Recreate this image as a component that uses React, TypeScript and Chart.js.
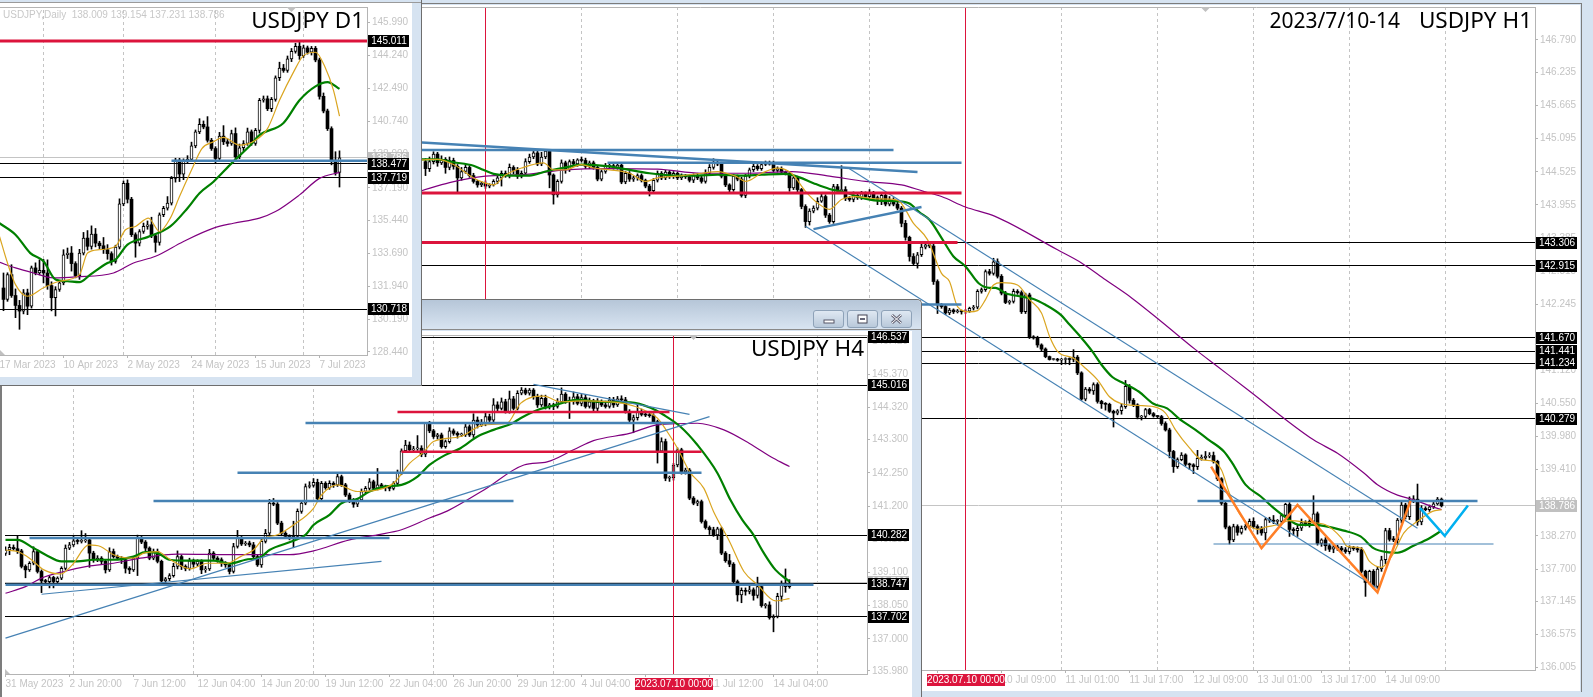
import React, { useEffect, useRef } from "react";
import { Chart, registerables } from "chart.js";
Chart.register(...registerables);

// ---------- D1 ----------
const d1FirstOpen = 131.85;
const d1Close = [131.24,132.56,131.45,130.92,130.62,131.59,130.88,132.92,132.65,132.79,
132.65,131.98,131.33,131.77,132.12,133.62,133.71,133.15,132.51,133.71,
134.51,134.07,134.72,134.24,134.10,133.89,133.68,133.27,134.03,136.33,
137.43,136.58,134.69,134.24,134.86,135.13,135.22,134.63,134.28,135.75,
136.10,136.37,137.69,138.66,137.92,138.63,138.70,139.42,140.17,140.57,
140.43,139.72,139.28,138.75,139.94,139.64,139.55,140.08,138.84,139.32,
139.55,140.17,139.55,140.25,141.85,141.93,141.40,141.90,143.05,143.56,
143.44,144.06,144.46,144.73,144.23,144.64,144.41,144.62,144.00,142.06,
141.28,140.34,138.63,138.009,138.786];
const d1WickUp = [80,10,53,35,27,18,20,10,27,56,58,70,20,15,10,27,27,35,10,20,30,40,44,30,10,44,27,10,10,27,12,18,10,10,10,18,20,40,10,10,10,35,10,10,10,10,20,20,10,30,18,55,10,10,20,56,15,18,30,20,15,20,10,10,10,15,15,10,10,32,20,15,15,16,21,15,10,10,10,10,18,10,10,48,37];
const d1WickDown = [60,10,10,65,97,15,45,10,10,10,53,20,70,97,10,10,20,40,12,20,10,20,15,20,15,20,30,20,10,10,10,20,10,75,15,10,15,10,52,15,10,10,10,20,40,30,10,10,10,10,10,10,10,25,10,15,15,10,10,10,15,10,10,10,15,10,10,15,10,15,10,10,15,10,20,10,10,15,10,15,10,10,22,15,78];
const d1Orange = [[-1,134.6],[1,133.18],[3,132.03],[6,131.41],[10,131.86],[14,132.21],[19,132.56],[21,133.71],[24,133.89],[28,134.07],[30.5,134.95],[33,135.13],[36.25,135.57],[39,134.86],[41.7,135.57],[44,136.72],[47,138.13],[49.6,139.28],[52.5,139.64],[55,139.87],[59,139.46],[63,139.72],[66,140.34],[69,141.85],[72.5,143.35],[75,144.23],[78,144.41],[80.4,143.61],[82.5,142.38],[84,141.01]];
const d1Green = [[-1,135.3],[3,134.69],[6.7,133.71],[10,133.27],[13,132.3],[16,132.21],[19,132.16],[21.7,132.56],[26,133.18],[28,133.36],[31,134.16],[36,134.56],[41.7,135.13],[46,136.1],[49,136.9],[52.5,137.51],[57,138.49],[61.7,139.46],[64,139.99],[70,140.64],[74,141.85],[78,142.59],[81,142.82],[84,142.46]];
const d1Purple = [[-1,133.22],[3,132.92],[7.5,132.65],[12.5,132.39],[18,132.44],[27.5,132.65],[32.5,133.18],[38,133.54],[45,134.33],[52.5,135.04],[57.5,135.3],[64,135.57],[68,135.92],[74,136.81],[79,137.69],[84,138.01]];
const d1YTicks = [145.99,144.24,142.49,140.74,138.99,137.19,135.44,133.69,131.94,130.19,128.44];
const d1TickIdx = [-1,15,31,47,63,79];
const d1TickText = ["17 Mar 2023","10 Apr 2023","2 May 2023","24 May 2023","15 Jun 2023","7 Jul 2023"];
const d1GridIdx = [10,30,53,75];
const d1BlackLevels = [145.011,138.477,137.719,130.718];
const d1RedLevels = [[-1,145.011,91,145.011]];
const d1BlueLines = [[42,138.63,91,138.63]];

// ---------- H4 ----------
const h4FirstOpen = 139.7;
const h4Close = [139.81,139.89,139.85,139.78,139.29,139.18,139.39,139.76,139.13,138.83,
138.81,138.94,138.81,138.92,139.23,139.87,139.97,140.10,140.08,140.10,
140.13,139.71,139.50,139.55,139.45,139.18,139.76,139.60,139.55,139.50,
139.23,139.18,139.55,140.18,140.06,139.87,139.55,139.76,139.45,138.83,
138.90,139.00,139.29,139.60,139.29,139.23,139.47,139.36,139.45,139.18,
139.21,139.71,139.55,139.50,139.39,139.34,139.13,139.92,140.18,140.00,
140.03,139.97,139.60,139.34,140.08,140.34,141.29,141.26,140.66,140.34,
140.24,140.18,140.24,141.03,141.29,141.82,141.85,141.95,141.43,141.92,
141.78,141.92,141.87,142.13,141.87,141.55,141.39,141.26,141.39,141.66,
141.76,141.97,141.76,141.87,141.82,141.78,141.76,141.92,142.24,142.95,
143.13,142.98,143.01,143.03,142.84,143.82,143.58,143.40,143.45,143.08,
143.24,143.58,143.50,143.45,143.45,143.71,143.45,143.92,143.77,143.82,
144.03,143.92,144.40,144.29,144.50,144.19,144.59,144.29,144.77,144.87,
144.77,144.87,144.66,144.40,144.61,144.35,144.40,144.35,144.50,144.74,
144.50,144.50,144.66,144.45,144.63,144.35,144.50,144.29,144.48,144.40,
144.35,144.56,144.40,144.59,144.56,144.19,143.92,144.00,144.19,144.10,
144.08,144.06,143.87,142.94,143.24,142.08,142.10,142.50,142.98,142.29,
142.34,141.45,141.29,141.34,140.71,140.52,140.45,140.29,140.48,139.71,
139.47,139.36,138.81,138.39,138.53,138.50,138.55,138.37,138.65,138.05,
138.07,137.67,137.71,138.34,138.71,138.65,138.75];
const h4WickUp = [10,10,8,40,5,5,5,15,5,5,5,5,4,4,5,10,8,15,8,32,20,5,6,8,5,5,12,8,5,5,6,5,6,10,6,5,4,8,8,4,4,6,10,18,5,5,8,5,5,5,8,12,5,5,6,5,5,10,25,6,5,6,8,5,10,12,12,15,5,6,5,5,48,8,6,8,12,12,10,6,5,8,5,12,5,5,6,5,5,8,6,10,5,52,5,4,5,5,10,6,15,10,8,40,8,2,6,5,5,6,5,10,6,5,6,8,6,20,10,12,15,8,20,10,12,8,25,8,8,8,6,5,5,8,10,10,5,5,10,20,5,15,15,8,10,10,12,8,12,8,12,8,8,8,10,8,6,8,25,8,8,6,6,5,12,8,5,5,6,5,6,5,5,5,5,5,5,8,5,5,5,20,5,5,8,8,12,6,30,8,5,10,5,10,12,50,12];
const h4WickDown = [6,15,5,8,5,25,5,5,5,37,5,20,20,5,5,5,5,5,8,5,5,45,8,6,8,10,5,5,5,12,15,12,5,55,5,8,5,5,5,3,5,6,5,8,10,8,6,10,6,12,8,5,5,8,10,8,8,5,5,5,5,6,8,5,8,5,5,5,5,8,6,5,30,5,6,5,5,5,8,5,5,5,8,5,5,5,8,10,8,5,5,5,5,5,5,10,8,5,5,5,5,5,5,5,8,8,6,6,8,5,5,5,6,10,5,5,5,8,10,5,8,5,6,8,5,5,5,5,5,5,5,6,8,8,5,8,8,10,5,5,5,53,8,5,8,5,5,8,8,5,5,5,8,5,5,5,5,40,8,5,5,5,5,38,5,8,10,8,6,8,8,5,5,8,5,5,15,5,15,5,5,8,6,20,25,12,8,15,8,5,8,5,45,5,15,18,5];
const h4Green = [[0,140.13],[3,140.13],[7,139.87],[10,139.66],[14,139.45],[18,139.45],[22,139.5],[27,139.5],[32,139.6],[35,139.74],[38,139.71],[41,139.5],[46,139.47],[52,139.47],[56,139.38],[60,139.5],[64,139.6],[66,139.81],[72,140.1],[75,140.29],[77,140.6],[81,140.92],[84,141.29],[88,141.43],[91,141.66],[95,141.82],[99,141.87],[103,142.13],[106,142.5],[110,142.82],[113.75,143.03],[118,143.4],[122,143.61],[126.7,143.82],[128.75,143.98],[133,144.24],[136.25,144.35],[143,144.56],[148.75,144.5],[156.25,144.48],[161.25,144.31],[164.6,144.08],[168.75,143.71],[173,143.13],[178,142.24],[181.25,141.39],[184.2,140.76],[186.7,140.34],[189.6,139.71],[192.5,139.18],[196,138.81]];
const h4Orange = [[0,139.81],[3,139.76],[6,139.55],[9.6,139.18],[13.75,139.05],[16.7,139.34],[20.8,139.97],[23.75,139.92],[27,139.66],[32,139.55],[34.6,139.71],[38,139.76],[41.25,139.5],[46.25,139.21],[50.4,139.39],[55.4,139.39],[58.75,139.6],[62,139.81],[64.6,140.18],[68,140.29],[72,140.6],[77,141.13],[79,141.55],[83,141.87],[88,141.66],[93,141.71],[97,141.92],[101,142.55],[104.6,142.92],[107,143.24],[113.75,143.4],[119.6,143.77],[125.4,143.82],[128.75,144.45],[134.6,144.68],[138.75,144.5],[144.6,144.53],[154.6,144.45],[159.6,144.24],[163,143.98],[165.4,143.56],[168,143.03],[171,142.29],[174.6,141.76],[177,141.03],[181,140.08],[184.6,139.13],[188,138.71],[192.5,138.2],[196,138.27]];
const h4Purple = [[0,138.44],[5,138.65],[9,138.92],[14.6,139.13],[20.4,139.29],[27,139.39],[33.75,139.55],[43,139.68],[57,139.66],[71,139.66],[77,139.78],[86,140.13],[93,140.29],[99,140.45],[106,140.82],[111,141.08],[119.6,141.71],[129.6,142.5],[135.4,142.6],[142,142.98],[147,143.27],[156,143.5],[163,143.77],[173,143.82],[179.6,143.61],[186,143.18],[192,142.71],[196,142.45]];
const h4YTicks = [146.42,145.37,144.32,143.3,142.25,141.2,140.15,139.1,138.05,137,135.98];
const h4TickIdx = [0,16,32,48,64,80,96,112,128,144,160,176,192];
const h4TickText = ["31 May 2023","2 Jun 20:00","7 Jun 12:00","12 Jun 04:00","14 Jun 20:00","19 Jun 12:00","22 Jun 04:00","26 Jun 20:00","29 Jun 12:00","4 Jul 04:00","6 Jul 20:00","11 Jul 12:00","14 Jul 04:00"];
const h4GridIdx = [17,47,77,107,137,167,203];
const h4BlackLevels = [146.537,145.016,140.282,138.747,137.702];
const h4BlueThick = [[0,138.71,202,138.71],[6,140.19,96,140.19],[37,141.36,127,141.36],[58,142.25,174,142.25],[75,143.83,167,143.83]];
const h4RedLines = [[98,144.18,166,144.18],[99,142.92,174,142.92]];
const h4BlueThin = [[0,137.02,176,144.03],[9,138.41,94,139.45],[132,145.05,171,144.1]];

// ---------- H1 ----------
const h1FirstOpen = 144.7;
const h1Close = [144.58,144.70,144.83,144.68,144.74,144.60,144.72,144.62,144.42,144.53,
144.60,144.46,144.36,144.30,144.33,144.28,144.30,144.36,144.42,144.50,
144.46,144.60,144.55,144.45,144.50,144.70,144.78,144.85,144.66,144.78,
144.88,144.47,144.13,144.36,144.68,144.56,144.70,144.66,144.73,144.72,
144.62,144.68,144.60,144.40,144.53,144.62,144.63,144.60,144.64,144.35,
144.50,144.40,144.42,144.46,144.38,144.28,144.20,144.38,144.50,144.42,
144.52,144.44,144.50,144.42,144.46,144.44,144.38,144.46,144.42,144.36,
144.50,144.60,144.68,144.66,144.45,144.30,144.22,144.45,144.40,144.12,
144.45,144.56,144.62,144.58,144.65,144.68,144.66,144.55,144.58,144.52,
144.50,144.25,144.42,144.22,143.93,143.67,143.85,143.90,144.02,144.10,
143.78,143.67,144.27,144.20,144.22,144.07,144.05,144.12,144.08,144.15,
144.10,144.16,144.08,144.05,144.12,143.97,144.05,143.97,143.90,143.64,
143.40,143.07,142.95,143.10,143.23,143.27,143.25,142.64,142.24,142.21,
142.10,142.15,142.12,142.13,142.12,142.13,142.18,142.20,142.47,142.50,
142.81,142.78,142.98,142.73,142.44,142.28,142.30,142.47,142.45,142.12,
142.41,141.69,141.67,141.55,141.48,141.35,141.30,141.30,141.29,141.30,
141.31,141.30,141.34,141.07,140.62,140.79,140.76,140.87,140.58,140.54,
140.53,140.41,140.38,140.42,140.49,140.84,140.60,140.52,140.31,140.32,
140.44,140.37,140.33,140.32,140.20,140.09,139.72,139.46,139.58,139.66,
139.50,139.49,139.46,139.60,139.61,139.64,139.65,139.55,139.25,138.83,
138.42,138.20,138.43,138.33,138.40,138.44,138.52,138.43,138.40,138.32,
138.55,138.54,138.52,138.52,138.62,138.81,138.38,138.36,138.40,138.50,
138.48,138.52,138.65,138.14,138.20,138.10,138.04,138.08,138.06,138.03,
138.00,138.07,138.05,138.03,137.66,137.47,137.66,137.40,137.70,137.86,
138.36,138.21,138.20,138.54,138.80,138.60,138.89,138.90,138.51,138.74,
138.72,138.77,138.82,138.90,138.786];
const h1WickUp = [5,8,4,3,6,3,6,4,3,7,5,3,4,2,3,4,2,3,5,4,4,6,3,5,4,5,5,3,6,8,2,3,2,3,5,3,3,4,2,5,4,3,3,3,3,5,3,4,3,3,3,3,3,3,3,2,3,3,4,3,3,3,3,2,3,2,3,3,4,3,6,5,7,3,3,4,2,3,2,3,3,3,4,3,4,3,3,5,3,3,2,3,2,3,2,3,4,4,6,4,3,3,4,4,41,5,3,6,3,4,3,6,3,3,5,3,5,3,3,3,5,2,5,4,5,6,3,6,3,2,2,3,2,3,2,3,2,3,3,3,3,4,6,5,3,3,2,4,3,3,3,3,2,3,2,2,1,2,2,2,2,2,13,3,2,3,3,3,3,2,2,2,2,2,5,10,3,3,2,2,2,2,2,1,2,3,3,2,3,4,2,2,2,14,5,8,5,6,2,2,2,2,4,3,4,3,4,6,3,3,3,4,8,3,3,2,3,3,5,6,3,3,31,3,2,4,3,3,3,3,4,3,2,3,4,2,2,3,4,6,4,4,5,3,7,3,5,6,26,5,3,3,3,3,2];
const h1WickDown = [12,5,4,6,3,10,4,5,25,4,3,3,3,4,3,4,3,2,4,14,3,4,6,4,3,4,3,3,3,3,3,22,16,4,3,6,3,3,4,3,4,4,3,3,3,3,4,3,3,3,3,4,4,4,3,3,9,4,3,3,3,3,3,3,3,3,3,4,3,3,3,3,3,3,3,3,7,3,3,3,4,3,3,3,3,2,2,3,3,3,3,6,3,4,4,10,6,3,3,2,4,3,3,3,3,4,3,4,3,3,3,3,4,9,9,3,3,3,3,6,5,8,3,8,3,3,3,5,15,3,3,3,3,2,4,3,2,3,3,3,3,3,3,3,3,2,3,3,3,3,3,3,2,4,3,2,1,1,2,8,8,9,4,3,2,3,4,6,3,8,10,2,24,3,6,3,5,3,3,5,2,2,2,2,3,2,11,10,3,2,3,8,12,5,3,3,3,3,3,3,3,7,3,5,3,3,3,3,10,4,12,4,4,6,4,3,12,8,10,4,4,6,3,3,5,8,4,6,4,4,3,4,3,4,3,24,3,3,3,4,7,3,3,8,5,4,5,5,6,5,2,3,3,2,2];
const h1Green = [[-1,144.74],[3,144.74],[7,144.69],[12,144.63],[14.4,144.56],[17,144.49],[21,144.46],[26,144.46],[30,144.53],[35,144.6],[39,144.65],[46,144.62],[50,144.57],[56,144.5],[63,144.46],[68,144.46],[73,144.475],[79,144.46],[84,144.475],[90,144.49],[93.5,144.43],[97,144.33],[101,144.23],[105,144.17],[108.5,144.09],[113,144.03],[118,144.02],[121,143.98],[123.5,143.83],[126,143.7],[129,143.39],[132,143.07],[135,142.9],[138.3,142.61],[141,142.53],[142.5,142.53],[145,142.44],[149,142.38],[152,142.34],[155,142.24],[158.75,142.07],[161,141.9],[164,141.67],[166.7,141.44],[169,141.21],[171.7,141],[174.6,140.89],[178.3,140.75],[182,140.54],[185.4,140.46],[188.3,140.29],[192.5,140.09],[195.8,139.92],[199.6,139.72],[201.7,139.52],[205,139.15],[208.75,138.95],[212,138.75],[215.4,138.57],[218.3,138.46],[222,138.46],[229.6,138.36],[233.75,138.26],[237,138.06],[240.4,137.99],[243,137.98],[247,138.1],[251,138.23],[254,138.36]];
const h1Orange = [[-1,144.73],[3,144.74],[7,144.65],[12,144.42],[15,144.33],[17,144.3],[20,144.47],[24,144.59],[29.5,144.68],[32,144.56],[35,144.56],[39,144.65],[42,144.59],[46,144.56],[51,144.5],[55,144.36],[58,144.42],[63,144.45],[69,144.5],[73,144.53],[77.5,144.45],[80,144.36],[84,144.5],[88,144.59],[91.5,144.5],[95,144.19],[98,143.99],[101,143.88],[104,144.05],[107.5,144.1],[113,144.06],[118,144.04],[122,143.64],[125.5,143.36],[129,142.78],[131,142.64],[133,142.21],[136,142.12],[138,142.14],[140,142.33],[142,142.58],[144,142.62],[148,142.58],[151,142.33],[154,142.1],[156,141.7],[158,141.44],[162,141.32],[165,141.15],[168,140.95],[171,140.66],[174,140.54],[178,140.51],[182,140.49],[185,140.38],[187.5,140.09],[191,139.78],[194,139.58],[197,139.55],[199,139.4],[201,139],[204,138.6],[208,138.38],[210,138.42],[213,138.46],[216,138.53],[221,138.5],[225,138.46],[229,138.23],[230.4,138.09],[234,138.06],[236,137.83],[239,137.73],[242,137.97],[244.6,138.32],[248,138.52],[251.75,138.69],[254,138.72]];
const h1Purple = [[-1,144.2],[6,144.34],[15,144.45],[25,144.48],[35,144.56],[46,144.58],[58,144.57],[69,144.5],[80.3,144.5],[91.6,144.53],[101,144.45],[110,144.36],[119,144.3],[124.5,144.19],[129,144.1],[135,143.92],[142.4,143.76],[158,143.185],[164,142.96],[170,142.67],[176.7,142.35],[184,141.95],[192.5,141.47],[198,141.18],[205,140.81],[222,139.92],[228,139.69],[234.6,139.35],[238,139.15],[243,138.97],[247,138.89],[251,138.79],[254,138.72]];
const h1YTicks = [146.79,146.235,145.665,145.095,144.525,143.955,143.385,142.815,142.245,141.675,141.12,140.55,139.98,139.41,138.84,138.27,137.7,137.145,136.575,136.005];
const h1TickIdx = [128,144,160,176,192,208,224,240];
const h1TickText = ["7 Jul 17:00","10 Jul 09:00","11 Jul 01:00","11 Jul 17:00","12 Jul 09:00","13 Jul 01:00","13 Jul 17:00","14 Jul 09:00"];
const h1GridIdx = [39,63,87,111,159,183,207,231,255];
const h1BlackLevels = [143.306,142.915,141.67,141.441,141.234,140.279];
const h1RedLines = [[-1,144.16,134,144.16],[-1,143.31,133,143.31]];
const h1BlueThick = [[-1,145.03,123,144.52],[-1,144.9,117,144.9],[45.5,144.68,134,144.68],[97,143.54,124,143.92],[124,142.245,134,142.245],[193,138.87,263,138.87]];
const h1BlueThin = [[95,143.59,238,137.37],[105.7,144.59,248,138.4],[197,138.13,267,138.13]];
const h1OrangeZigzag = [[196.4,139.46],[209,138.06],[218,138.8],[238,137.3],[246.25,138.87]];
const h1SkyZigzag = [[248.6,138.75],[254.8,138.27],[260.6,138.79]];

const BLUE = "#4682b4", RED = "#dc143c", GREEN = "#008000", GOLD = "#daa520", PURPLE = "#800080";
const GRAY = "#c4c4c4", AXIS = "#b4b4b4", BG = "#d6e3f1";
const TICK_FONT = { family: "Liberation Sans", size: 10 };

type Pane = any;

function candles(first: number, close: number[], up: number[], down: number[]) {
  const wick: any[] = [], bull: any[] = [], bear: any[] = [];
  close.forEach((c, i) => {
    const o = i === 0 ? first : close[i - 1];
    const hi = Math.max(o, c) + (up[i] ?? 3) / 100;
    const lo = Math.min(o, c) - (down[i] ?? 3) / 100;
    wick.push({ x: i, y: [lo, hi] });
    (c >= o ? bull : bear).push({ x: i, y: [o, c] });
  });
  return { wick, bull, bear };
}

function buildDatasets(p: Pane) {
  const ds: any[] = [];
  const { wick, bull, bear } = candles(p.first, p.close, p.up, p.down);
  const line = (pts: number[][], color: string, width: number, order: number, extra: any = {}) =>
    ds.push({ type: "line", data: pts.map(([x, y]) => ({ x, y })), borderColor: color, borderWidth: width, pointRadius: 0, fill: false, tension: 0, order, ...extra });
  const seg = (s: number[]) => [[s[0], s[1]], [s[2], s[3]]];
  const smooth = { cubicInterpolationMode: "monotone" };
  p.grid.forEach((g: number) => line([[g, p.yMin], [g, p.yMax]], GRAY, 1, 30, { borderDash: [3, 3], snap: "x" }));
  line([[p.xMin, p.last], [p.xMax, p.last]], GRAY, 1, 29, { snap: "y" });
  const bar = (data: any[], thick: number, bg: string, order: number, border = 0) =>
    ds.push({ type: "bar", data, barThickness: thick, backgroundColor: bg, borderColor: "#000", borderWidth: border, borderSkipped: false, grouped: false, minBarLength: 1, order });
  bar(wick, 1, "#000", 20);
  bar(bull, 3, "#fff", 19, 1);
  bar(bear, 3, "#000", 19);
  p.black.forEach((v: number) => line([[p.xMin, v], [p.xMax, v]], "#000", 1, 15, { snap: "y" }));
  p.reds.forEach((x: number) => line([[x, p.yMin], [x, p.yMax]], RED, 1, 14, { snap: "x" }));
  line(p.purple, PURPLE, 1.2, 12, smooth);
  line(p.greenMa, GREEN, 2.2, 11, smooth);
  line(p.orange, GOLD, 1.2, 10, smooth);
  (p.thin || []).forEach((s: number[]) => line(seg(s), BLUE, 1.1, 9));
  (p.thick || []).forEach((s: number[]) => line(seg(s), BLUE, 2.5, 8));
  (p.redLines || []).forEach((s: number[]) => line(seg(s), RED, p.redWidth || 3, 7));
  if (p.zigzag) line(p.zigzag, "#ff7f27", 2.5, 6);
  if (p.sky) line(p.sky, "#00b0f0", 2.5, 5);
  return ds;
}

const overlay = {
  id: "overlay",
  afterDatasetsUpdate(chart: any) {
    chart.data.datasets.forEach((d: any, i: number) => {
      if (!d.snap) return;
      chart.getDatasetMeta(i).data.forEach((pt: any) => { pt[d.snap] = Math.floor(pt[d.snap]) + 0.5; });
    });
  },
  afterDraw(chart: any) {
    const p: Pane = chart.options.plugins.overlay.pane;
    const { ctx, chartArea: a, scales } = chart;
    ctx.save();
    ctx.strokeStyle = AXIS; ctx.lineWidth = 1;
    ctx.beginPath(); ctx.moveTo(a.left, Math.floor(a.top) + 0.5); ctx.lineTo(a.right, Math.floor(a.top) + 0.5); ctx.stroke();
    const mx = scales.x.getPixelForValue(p.marker);
    ctx.fillStyle = "#c0c0c0";
    ctx.beginPath(); ctx.moveTo(mx - 5, a.top); ctx.lineTo(mx + 5, a.top); ctx.lineTo(mx, a.top + 5); ctx.closePath(); ctx.fill();
    ctx.beginPath(); ctx.moveTo(a.left, a.bottom); ctx.lineTo(a.left + 5, a.bottom); ctx.lineTo(a.left, a.bottom - 5); ctx.closePath(); ctx.fill();
    ctx.textBaseline = "middle"; ctx.textAlign = "center";
    ctx.font = "10px 'Liberation Sans'";
    const tag = (v: number, bg: string) => {
      const y = Math.round(scales.y.getPixelForValue(v));
      ctx.fillStyle = bg; ctx.fillRect(a.right + 1, y - 6, 41, 12);
      ctx.fillStyle = "#fff"; ctx.fillText(v.toFixed(3), a.right + 22, y + 0.5);
    };
    tag(p.last, "#c0c0c0");
    p.black.forEach((v: number) => tag(v, "#000"));
    if (p.dateTag !== undefined) {
      const x = Math.round(scales.x.getPixelForValue(p.dateTag));
      ctx.fillStyle = RED; ctx.fillRect(x - 39, a.bottom + 4, 78, 12);
      ctx.fillStyle = "#fff"; ctx.fillText("2023.07.10 00:00", x, a.bottom + 10.5);
    }
    ctx.textBaseline = "alphabetic"; ctx.textAlign = "right"; ctx.fillStyle = "#000";
    ctx.font = "22.5px 'Noto Sans'";
    ctx.fillText(p.title, a.right - 3, a.top + 21);
    if (p.range) {
      ctx.font = "21px 'Noto Sans'";
      ctx.fillText(p.range, a.right - 135, a.top + 21);
    }
    if (p.header) {
      ctx.textAlign = "left"; ctx.fillStyle = "#c8c8c8"; ctx.font = "10px 'Liberation Sans'";
      ctx.fillText(p.header, 3, a.top + 11);
    }
    ctx.restore();
  },
};

function ChartPane({ pane }: { pane: Pane }) {
  const ref = useRef<HTMLCanvasElement>(null);
  useEffect(() => {
    const chart = new Chart(ref.current as HTMLCanvasElement, {
      type: "line",
      plugins: [overlay],
      data: { datasets: buildDatasets(pane) },
      options: {
        animation: false, responsive: false, devicePixelRatio: 1, events: [],
        layout: { padding: { left: pane.padLeft, top: pane.padTop, right: 0, bottom: 0 } },
        plugins: { legend: { display: false }, tooltip: { enabled: false }, overlay: { pane } } as any,
        scales: {
          x: {
            type: "linear", offset: false, min: pane.xMin, max: pane.xMax,
            grid: { drawOnChartArea: false, offset: false, tickLength: 3, color: AXIS },
            border: { display: true, color: AXIS },
            ticks: {
              align: "start", autoSkip: false, maxRotation: 0, minRotation: 0, padding: 1, color: GRAY, font: TICK_FONT,
              callback: (v: number) => pane.tickText[pane.tickIdx.indexOf(v)] ?? "",
            },
            afterBuildTicks: (s: any) => { s.ticks = pane.tickIdx.map((value: number) => ({ value })); },
            afterFit: (s: any) => { s.height = pane.xAxisH; s.paddingLeft = s.paddingRight = 0; },
          },
          y: {
            type: "linear", position: "right", min: pane.yMin, max: pane.yMax,
            grid: { drawOnChartArea: false, tickLength: 3, color: AXIS },
            border: { display: true, color: AXIS },
            ticks: { autoSkip: false, padding: 2, color: GRAY, font: TICK_FONT, callback: (v: number) => v.toFixed(3) },
            afterBuildTicks: (s: any) => { s.ticks = pane.yTicks.map((value: number) => ({ value })); },
            afterFit: (s: any) => { s.width = 45; s.paddingTop = s.paddingBottom = 0; },
          },
        },
      } as any,
    });
    return () => chart.destroy();
  }, []);
  return <canvas ref={ref} width={pane.w} height={pane.h} style={{ display: "block", width: pane.w, height: pane.h, background: "#fff" }} />;
}

const d1Pane: Pane = {
  w: 412, h: 374, padLeft: 0, padTop: 4, xAxisH: 22, xMin: -0.875, xMax: 90.875, yMin: 128.28, yMax: 146.82,
  first: d1FirstOpen, close: d1Close, up: d1WickUp, down: d1WickDown, purple: d1Purple, greenMa: d1Green, orange: d1Orange,
  yTicks: d1YTicks, tickIdx: d1TickIdx, tickText: d1TickText, grid: d1GridIdx, black: d1BlackLevels, reds: [], last: 138.786,
  redLines: d1RedLevels, thick: d1BlueLines, marker: 72, title: "USDJPY D1",
  header: "USDJPY,Daily  138.009 139.154 137.231 138.786",
};
const h4Pane: Pane = {
  w: 912, h: 366, padLeft: 5, padTop: 4, xAxisH: 23, xMin: -0.125, xMax: 215.375, yMin: 135.885, yMax: 146.613,
  first: h4FirstOpen, close: h4Close, up: h4WickUp, down: h4WickDown, purple: h4Purple, greenMa: h4Green, orange: h4Orange,
  yTicks: h4YTicks, tickIdx: h4TickIdx, tickText: h4TickText, grid: h4GridIdx, black: h4BlackLevels, reds: [167], last: 138.786,
  redLines: h4RedLines, redWidth: 2.5, thick: h4BlueThick, thin: h4BlueThin, marker: 172, title: "USDJPY H4", dateTag: 167,
};
const h1Pane: Pane = {
  w: 1158, h: 686, padLeft: 0, padTop: 2, xAxisH: 21, xMin: -0.875, xMax: 277.375, yMin: 135.965, yMax: 147.357,
  first: h1FirstOpen, close: h1Close, up: h1WickUp, down: h1WickDown, purple: h1Purple, greenMa: h1Green, orange: h1Orange,
  yTicks: h1YTicks, tickIdx: h1TickIdx, tickText: h1TickText, grid: h1GridIdx, black: h1BlackLevels, reds: [15, 135], last: 138.786,
  redLines: h1RedLines, thick: h1BlueThick, thin: h1BlueThin, zigzag: h1OrangeZigzag, sky: h1SkyZigzag, marker: 195,
  title: "USDJPY H1", range: "2023/7/10-14", dateTag: 135,
};

const abs = (left: number, top: number, width: number, height: number, extra: any = {}) =>
  ({ position: "absolute", left, top, width, height, boxSizing: "border-box", ...extra }) as React.CSSProperties;

function WinButton({ left, kind }: { left: number; kind: string }) {
  return (
    <div style={abs(left, 10, 31, 18, { border: "1px solid #8ea2b8", borderRadius: 3, background: "linear-gradient(#dfe8f2,#b9c9da)" })}>
      <svg width="29" height="16" style={{ display: "block" }}>
        {kind === "min" && <rect x="10" y="9" width="10" height="3" fill="#fff" stroke="#556" strokeWidth="1" />}
        {kind === "max" && <g><rect x="10" y="4" width="9" height="8" fill="#fff" stroke="#445" strokeWidth="1" /><rect x="12" y="7" width="5" height="2" fill="#667" /></g>}
        {kind === "close" && <g><path d="M10 4 L19 12 M19 4 L10 12" stroke="#667" strokeWidth="3" /><path d="M10 4 L19 12 M19 4 L10 12" stroke="#fff" strokeWidth="1" /></g>}
      </svg>
    </div>
  );
}

export default function App() {
  return (
    <div style={{ position: "fixed", left: 0, top: 0, width: 1593, height: 697, background: BG, overflow: "hidden" }}>
      <div style={abs(421, 3, 1161, 689, { border: "1px solid #7c7c7c", borderBottom: "none" })}>
        <div style={{ position: "absolute", left: 0, top: 1 }}><ChartPane pane={h1Pane} /></div>
      </div>
      <div style={abs(0, 299, 922, 398, { background: BG, borderTop: "1px solid #6e6e6e", borderRight: "1px solid #6e6e6e", borderTopRightRadius: 5, zIndex: 2 })}>
        <div style={abs(0, 0, 921, 30, { background: "linear-gradient(#b6c6d8,#d8e4f1)", borderBottom: "1px solid #8a8a8a", borderTopRightRadius: 5 })} />
        <WinButton left={813} kind="min" />
        <WinButton left={847} kind="max" />
        <WinButton left={881} kind="close" />
        <div style={{ position: "absolute", left: 0, top: 31 }}><ChartPane pane={h4Pane} /></div>
        <div style={abs(0, 30, 2, 368, { background: "#7c7c7c" })} />
      </div>
      <div style={abs(0, 0, 422, 386, { background: BG, borderRight: "1px solid #6e6e6e", borderBottom: "1px solid #6e6e6e", zIndex: 3 })}>
        <div style={abs(0, 2, 421, 1, { background: "#9a9a9a" })} />
        <div style={{ position: "absolute", left: 0, top: 3 }}><ChartPane pane={d1Pane} /></div>
      </div>
    </div>
  );
}
